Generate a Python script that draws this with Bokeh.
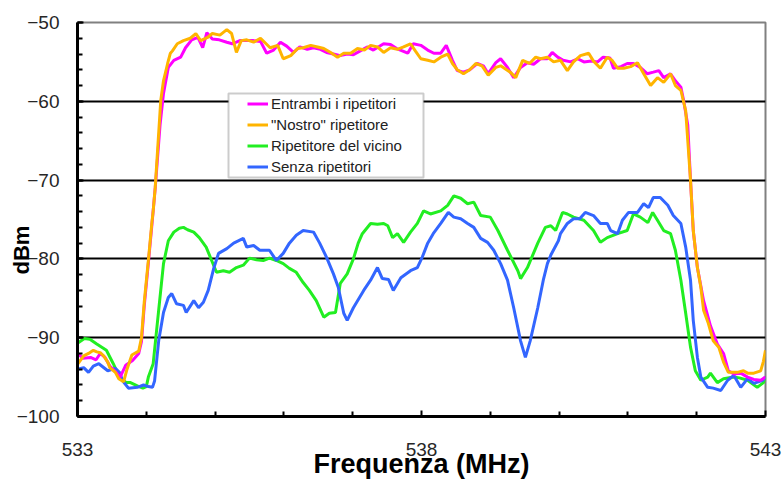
from bokeh.plotting import figure
from bokeh.models import (Range1d, FixedTicker, Legend, LegendItem,
                          BoxAnnotation)
from bokeh.embed import file_html
from bokeh.resources import INLINE

# ---- measured spectra (frequency in MHz, level in dBm) ----
freq_entrambi = [533.00, 533.08, 533.19, 533.27, 533.33, 533.40, 533.47, 533.55, 533.62, 533.70,
                 533.80, 533.89, 533.93, 533.97, 534.03, 534.08, 534.13, 534.20, 534.25, 534.32,
                 534.40, 534.50, 534.57, 534.66, 534.75, 534.82, 534.88, 534.96, 535.06, 535.17,
                 535.25, 535.36, 535.46, 535.56, 535.66, 535.75, 535.85, 535.95, 536.04, 536.14,
                 536.23, 536.34, 536.43, 536.53, 536.62, 536.72, 536.82, 536.92, 537.01, 537.11,
                 537.21, 537.30, 537.45, 537.55, 537.64, 537.80, 537.88, 537.99, 538.09, 538.18,
                 538.28, 538.36, 538.45, 538.52, 538.61, 538.70, 538.81, 538.90, 538.97, 539.08,
                 539.15, 539.25, 539.34, 539.44, 539.54, 539.63, 539.73, 539.83, 539.90, 539.98,
                 540.06, 540.17, 540.27, 540.36, 540.47, 540.56, 540.64, 540.74, 540.79, 540.90,
                 540.99, 541.08, 541.18, 541.28, 541.37, 541.45, 541.52, 541.62, 541.69, 541.77,
                 541.81, 541.87, 541.91, 541.95, 542.01, 542.10, 542.20, 542.30, 542.39, 542.46,
                 542.54, 542.64, 542.74, 542.83, 542.93, 543.00]
dbm_entrambi = [-92.0, -92.6, -92.5, -92.8, -92.0, -92.5, -93.6, -94.3, -95.0, -93.5,
                -92.9, -92.0, -90.5, -86.0, -80.5, -75.8, -71.0, -63.0, -59.0, -55.7,
                -54.8, -54.4, -53.2, -52.2, -51.9, -53.2, -51.3, -52.1, -52.2, -52.5,
                -52.7, -52.3, -52.3, -52.3, -52.4, -53.9, -53.5, -52.5, -53.0, -53.8,
                -53.1, -53.4, -53.2, -53.4, -53.8, -54.0, -54.2, -54.0, -54.1, -53.6,
                -53.1, -53.5, -52.7, -52.8, -53.3, -53.9, -52.7, -52.9, -53.5, -53.9,
                -53.9, -52.9, -54.8, -56.1, -56.3, -56.0, -55.2, -55.5, -56.5, -55.1,
                -54.6, -55.7, -57.0, -55.7, -55.1, -55.3, -54.6, -54.6, -53.8, -54.4,
                -54.8, -55.0, -54.6, -55.0, -54.9, -55.0, -54.4, -54.5, -55.8, -55.6,
                -55.2, -55.2, -55.7, -56.5, -56.3, -56.1, -57.0, -56.5, -57.4, -58.2,
                -59.9, -63.0, -70.0, -76.4, -81.1, -85.3, -88.5, -90.8, -92.0, -94.2,
                -94.6, -94.5, -95.0, -95.3, -95.4, -95.0]

freq_nostro = [533.00, 533.09, 533.16, 533.23, 533.28, 533.33, 533.38, 533.44, 533.47, 533.55,
               533.60, 533.67, 533.72, 533.79, 533.89, 533.93, 533.97, 534.03, 534.08, 534.10,
               534.13, 534.21, 534.25, 534.31, 534.35, 534.38, 534.45, 534.54, 534.64, 534.72,
               534.79, 534.89, 534.96, 535.07, 535.17, 535.24, 535.31, 535.38, 535.46, 535.56,
               535.66, 535.73, 535.80, 535.91, 535.99, 536.10, 536.20, 536.28, 536.39, 536.49,
               536.58, 536.68, 536.78, 536.87, 536.97, 537.07, 537.17, 537.26, 537.36, 537.45,
               537.55, 537.65, 537.74, 537.84, 537.91, 537.99, 538.09, 538.18, 538.28, 538.38,
               538.45, 538.52, 538.61, 538.70, 538.79, 538.88, 538.97, 539.08, 539.15, 539.22,
               539.29, 539.37, 539.47, 539.57, 539.66, 539.73, 539.83, 539.92, 540.02, 540.12,
               540.21, 540.31, 540.43, 540.50, 540.60, 540.70, 540.77, 540.85, 540.94, 541.04,
               541.14, 541.23, 541.33, 541.43, 541.52, 541.62, 541.69, 541.77, 541.84, 541.91,
               541.95, 542.01, 542.06, 542.10, 542.17, 542.24, 542.32, 542.39, 542.46, 542.59,
               542.68, 542.74, 542.83, 542.93, 542.97, 543.00]
dbm_nostro = [-93.4, -92.3, -92.0, -91.6, -91.8, -91.9, -92.3, -93.1, -93.8, -94.4,
              -95.2, -95.6, -94.0, -92.2, -91.7, -90.0, -85.5, -80.2, -75.5, -73.9,
              -70.9, -59.9, -57.4, -55.2, -53.9, -53.6, -52.7, -52.3, -52.0, -51.4,
              -52.3, -51.9, -51.4, -51.6, -50.9, -51.4, -53.8, -52.3, -52.2, -52.5,
              -52.0, -52.6, -53.2, -52.9, -54.6, -54.2, -53.3, -53.2, -52.9, -53.1,
              -53.3, -53.8, -54.4, -53.9, -53.9, -53.3, -53.5, -52.9, -53.1, -53.8,
              -53.2, -53.4, -53.1, -52.7, -53.6, -54.6, -54.8, -55.0, -54.4, -54.0,
              -55.2, -56.0, -56.5, -56.0, -55.2, -55.5, -56.7, -55.7, -55.5, -55.9,
              -56.3, -57.0, -54.8, -55.2, -54.4, -54.6, -54.4, -55.0, -54.8, -56.1,
              -55.0, -54.2, -53.9, -54.9, -55.8, -54.4, -54.8, -55.8, -55.8, -55.6,
              -55.1, -56.5, -58.0, -57.0, -57.6, -56.5, -58.0, -58.6, -61.2, -70.0,
              -76.4, -81.1, -83.6, -86.5, -88.2, -90.4, -91.2, -93.1, -94.4, -94.4,
              -94.2, -94.5, -94.5, -94.2, -93.0, -91.6]

freq_vicino = [533.00, 533.10, 533.18, 533.28, 533.42, 533.52, 533.61, 533.71, 533.77, 533.87,
               533.95, 534.00, 534.03, 534.10, 534.18, 534.25, 534.32, 534.40, 534.48, 534.54,
               534.60, 534.69, 534.77, 534.87, 534.95, 535.02, 535.12, 535.21, 535.31, 535.41,
               535.50, 535.60, 535.70, 535.79, 535.89, 535.99, 536.08, 536.18, 536.28, 536.37,
               536.47, 536.58, 536.66, 536.75, 536.82, 536.92, 537.01, 537.08, 537.14, 537.26,
               537.36, 537.45, 537.51, 537.58, 537.65, 537.74, 537.84, 537.94, 538.03, 538.13,
               538.28, 538.38, 538.47, 538.57, 538.67, 538.76, 538.86, 539.00, 539.11, 539.25,
               539.40, 539.44, 539.54, 539.69, 539.80, 539.88, 539.95, 540.05, 540.12, 540.21,
               540.36, 540.50, 540.60, 540.70, 540.85, 540.99, 541.08, 541.18, 541.29, 541.36,
               541.43, 541.52, 541.62, 541.69, 541.77, 541.84, 541.91, 541.98, 542.06, 542.16,
               542.20, 542.30, 542.39, 542.54, 542.62, 542.74, 542.88, 542.97, 543.00]
dbm_vicino = [-90.7, -90.1, -90.2, -90.8, -91.6, -93.3, -95.0, -95.7, -95.7, -96.1,
              -96.4, -96.2, -95.0, -93.3, -86.5, -80.6, -77.7, -76.6, -76.1, -76.0,
              -76.3, -76.6, -77.3, -78.5, -80.2, -81.7, -81.5, -81.7, -81.1, -80.8,
              -79.9, -80.1, -80.2, -79.9, -80.2, -80.6, -81.2, -81.7, -83.0, -84.0,
              -85.3, -87.4, -86.9, -86.8, -83.1, -81.9, -80.0, -78.0, -76.8, -75.5,
              -75.6, -75.5, -75.8, -77.3, -76.8, -77.9, -76.6, -75.5, -73.9, -74.3,
              -73.9, -73.2, -72.0, -72.3, -73.0, -72.8, -74.5, -74.7, -76.4, -78.9,
              -81.5, -82.5, -81.1, -78.0, -76.0, -75.8, -76.4, -74.1, -74.3, -74.7,
              -75.1, -76.4, -77.9, -77.3, -76.8, -76.4, -74.3, -74.7, -75.4, -74.1,
              -75.1, -76.4, -76.8, -78.9, -82.7, -86.9, -91.2, -94.2, -95.4, -95.0,
              -94.5, -95.7, -95.2, -95.0, -95.1, -95.4, -96.3, -95.7, -95.0]

freq_senza = [533.00, 533.09, 533.16, 533.23, 533.31, 533.44, 533.55, 533.62, 533.65, 533.74,
              533.87, 533.96, 534.03, 534.09, 534.12, 534.14, 534.18, 534.25, 534.32, 534.37,
              534.44, 534.54, 534.58, 534.69, 534.76, 534.83, 534.90, 534.98, 535.05, 535.17,
              535.27, 535.41, 535.46, 535.56, 535.65, 535.79, 535.89, 535.99, 536.08, 536.18,
              536.28, 536.43, 536.52, 536.62, 536.72, 536.79, 536.87, 536.92, 537.01, 537.16,
              537.26, 537.36, 537.43, 537.52, 537.59, 537.70, 537.84, 537.94, 538.01, 538.09,
              538.17, 538.28, 538.39, 538.47, 538.57, 538.67, 538.76, 538.86, 538.96, 539.05,
              539.15, 539.25, 539.34, 539.44, 539.51, 539.58, 539.69, 539.77, 539.83, 539.88,
              539.99, 540.02, 540.12, 540.21, 540.30, 540.38, 540.50, 540.60, 540.70, 540.75,
              540.85, 540.92, 541.01, 541.14, 541.23, 541.30, 541.37, 541.47, 541.58, 541.66,
              541.77, 541.84, 541.91, 541.95, 542.01, 542.06, 542.16, 542.24, 542.35, 542.45,
              542.54, 542.64, 542.74, 542.83, 542.96, 543.00]
dbm_senza = [-94.0, -93.8, -94.4, -93.6, -93.3, -94.2, -93.9, -94.5, -95.4, -96.4,
             -96.3, -96.0, -96.2, -96.3, -95.5, -93.8, -90.4, -86.8, -84.9, -84.4,
             -85.7, -85.9, -86.8, -85.3, -86.2, -85.5, -84.0, -81.2, -79.3, -78.7,
             -78.0, -77.4, -78.5, -78.3, -78.9, -78.9, -80.2, -79.3, -78.0, -77.0,
             -76.4, -76.6, -78.0, -79.8, -81.9, -83.6, -86.9, -87.8, -86.2, -84.0,
             -82.7, -81.1, -82.5, -82.6, -84.0, -82.4, -81.5, -81.1, -79.8, -78.0,
             -76.8, -75.5, -74.1, -74.7, -74.9, -75.5, -76.0, -77.4, -77.9, -78.9,
             -80.6, -82.7, -86.2, -90.4, -92.5, -90.4, -86.2, -82.7, -80.6, -79.5,
             -77.7, -76.8, -75.5, -74.9, -74.9, -74.1, -74.5, -75.5, -75.5, -76.4,
             -76.8, -75.1, -74.1, -74.1, -73.0, -73.5, -72.2, -72.2, -73.2, -74.5,
             -75.5, -78.5, -82.7, -87.8, -92.5, -95.0, -96.3, -96.4, -96.7, -95.4,
             -94.8, -96.3, -95.2, -95.8, -95.4, -95.0]

series_labels = ["Entrambi i ripetitori", "\"Nostro\" ripetitore",
                 "Ripetitore del vicino", "Senza ripetitori"]
series_colors = ["#FF00FF", "#FFB400", "#22EE22", "#3366FF"]

x_major = [533, 538, 543]
x_minor = [534, 535, 536, 537, 539, 540, 541, 542]
y_major = [-100, -90, -80, -70, -60, -50]
y_minor = [v for v in range(-100, -49, 2)]
grid_levels = [-90, -80, -70, -60, -50]

FONT = "Liberation Sans"

p = figure(width=784, height=483, output_backend="svg", toolbar_location=None,
           x_range=Range1d(533, 543), y_range=Range1d(-100, -50),
           min_border_left=77, min_border_right=19,
           min_border_top=22, min_border_bottom=67)
p.background_fill_color = "white"
p.border_fill_color = "white"
p.outline_line_color = "#808080"
p.outline_line_width = 2

# horizontal reference lines
p.xgrid.visible = False
p.ygrid.ticker = FixedTicker(ticks=grid_levels)
p.ygrid.grid_line_color = "black"
p.ygrid.grid_line_width = 2

# axes: inward ticks, heavy black spines
for ax in (p.xaxis[0], p.yaxis[0]):
    ax.axis_line_color = "black"
    ax.axis_line_width = 3
    ax.major_tick_in = 6
    ax.major_tick_out = 0
    ax.minor_tick_in = 5
    ax.minor_tick_out = 0
    ax.major_tick_line_color = "black"
    ax.major_tick_line_width = 2
    ax.minor_tick_line_color = "black"
    ax.minor_tick_line_width = 2
    ax.major_label_text_font = FONT
    ax.major_label_text_font_size = "19px"
    ax.major_label_text_color = "#262626"
    ax.axis_label_text_font = FONT
    ax.axis_label_text_font_style = "bold"
    ax.axis_label_text_color = "black"

p.xaxis.ticker = FixedTicker(ticks=x_major, minor_ticks=x_minor)
p.xaxis.major_label_standoff = 26
p.xaxis.axis_label = "Frequenza (MHz)"
p.xaxis.axis_label_text_font_size = "27px"
p.xaxis.axis_label_standoff = -10

p.yaxis.ticker = FixedTicker(ticks=y_major, minor_ticks=y_minor)
p.yaxis.major_label_standoff = 18
# trailing no-break spaces lower the unit label along the axis
p.yaxis.axis_label = "dBm" + "\u00a0" * 10
p.yaxis.axis_label_text_font_size = "22px"
p.yaxis.axis_label_standoff = -20

# spectra
xs = [freq_entrambi, freq_nostro, freq_vicino, freq_senza]
ys = [dbm_entrambi, dbm_nostro, dbm_vicino, dbm_senza]
renderers = {}
for i in (2, 3, 0, 1):
    renderers[i] = p.line(xs[i], ys[i], line_color=series_colors[i], line_width=3)

# legend with its own framed box
p.add_layout(BoxAnnotation(left=151, right=346, bottom=239, top=323,
                           left_units="screen", right_units="screen",
                           bottom_units="screen", top_units="screen",
                           fill_color="white", fill_alpha=1.0,
                           line_color="#555555", line_width=2))
legend = Legend(items=[LegendItem(label=series_labels[i], renderers=[renderers[i]])
                       for i in range(4)],
                location=(170, 239), padding=0, spacing=0, margin=0,
                glyph_width=21, glyph_height=21, label_height=21, label_standoff=3,
                border_line_color=None, background_fill_alpha=0,
                label_text_font=FONT, label_text_font_size="15px",
                label_text_color="#222222")
p.add_layout(legend)

open("out.html", "w").write(file_html(p, INLINE))
